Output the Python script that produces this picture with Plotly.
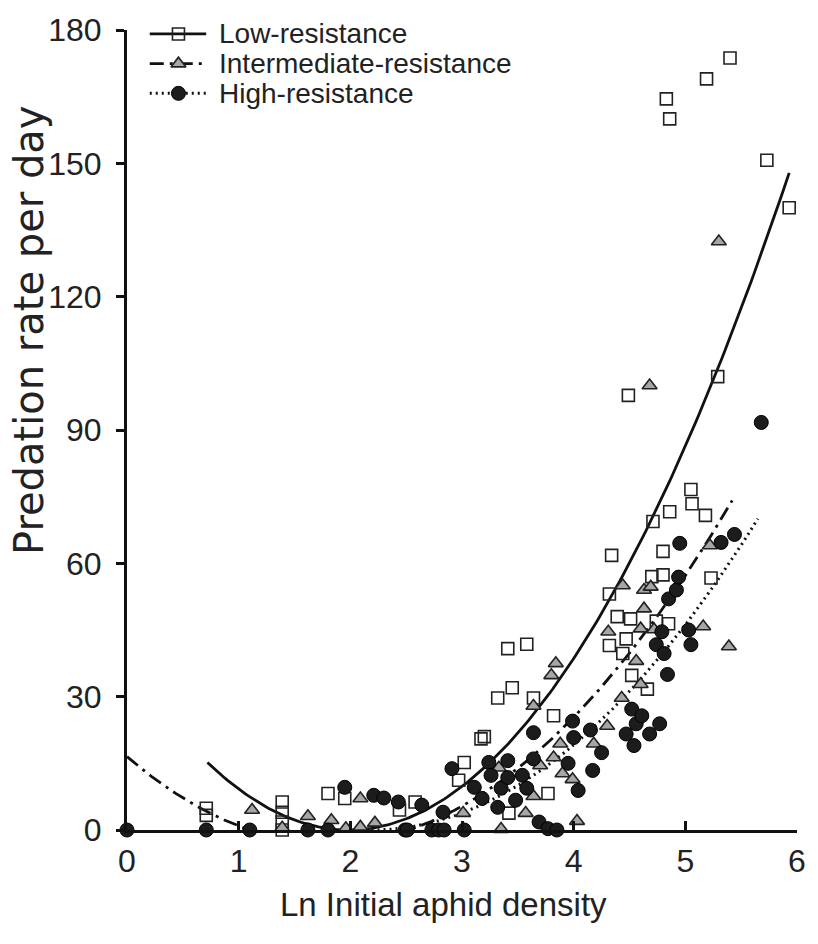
import numpy as np
import plotly.graph_objects as go

# ---- observations: ln initial aphid density vs predation rate per day ----
low_x = [0.71, 0.71, 1.39, 1.39, 1.39, 1.39, 1.80, 1.95, 2.44, 2.58, 2.97, 3.02,
         3.17, 3.20, 3.32, 3.41, 3.42, 3.45, 3.58, 3.64, 3.77, 3.82, 4.32, 4.34,
         4.32, 4.39, 4.44, 4.47, 4.49, 4.51, 4.52, 4.66, 4.70, 4.71, 4.74, 4.80,
         4.80, 4.83, 4.85, 4.86, 4.86, 5.05, 5.06, 5.18, 5.19, 5.23, 5.29, 5.40,
         5.73, 5.93]
low_y = [4.9, 3.3, 6.3, 4.0, 1.8, 0.0, 8.2, 7.1, 4.5, 6.3, 11.2, 15.2,
         20.5, 21.0, 29.7, 40.8, 3.8, 32.0, 41.8, 29.7, 8.2, 25.7, 53.1, 61.8,
         41.5, 48.0, 39.7, 43.0, 97.8, 47.5, 34.8, 31.7, 57.0, 69.4, 47.0, 62.7,
         57.4, 164.5, 46.4, 160.0, 71.6, 76.6, 73.4, 70.8, 169.0, 56.7, 102.0, 173.7,
         150.7, 140.0]

mid_x = [1.12, 1.39, 1.62, 1.83, 1.96, 2.09, 2.09, 2.22, 3.01, 3.33, 3.35, 3.57,
         3.64, 3.64, 3.70, 3.80, 3.84, 3.82, 3.88, 3.90, 3.99, 4.03, 4.18, 4.30,
         4.31, 4.43, 4.44, 4.56, 4.60, 4.60, 4.63, 4.63, 4.68, 4.69, 4.72, 5.16,
         5.22, 5.30, 5.39]
mid_y = [4.5, 0.5, 3.1, 2.2, 0.4, 0.7, 7.1, 1.6, 3.8, 14.0, 0.2, 3.8,
         7.6, 27.9, 14.5, 34.8, 37.5, 16.3, 19.4, 12.7, 11.4, 2.0, 19.4, 23.4,
         44.6, 29.7, 55.0, 38.0, 45.3, 32.8, 54.0, 49.8, 100.0, 54.7, 45.1, 45.8,
         64.0, 132.4, 41.3]

high_x = [0.00, 0.71, 1.10, 1.62, 1.80, 1.95, 2.21, 2.30, 2.43, 2.49, 2.51, 2.64,
          2.73, 2.79, 2.84, 2.83, 2.91, 3.02, 3.11, 3.18, 3.24, 3.26, 3.32, 3.35,
          3.41, 3.41, 3.48, 3.54, 3.58, 3.64, 3.64, 3.69, 3.77, 3.85, 3.95, 3.99,
          4.00, 4.04, 4.15, 4.17, 4.25, 4.47, 4.52, 4.54, 4.56, 4.61, 4.68, 4.74,
          4.77, 4.79, 4.81, 4.84, 4.85, 4.92, 4.94, 4.95, 5.03, 5.05, 5.32, 5.44,
          5.68]
high_y = [0.0, 0.0, 0.0, 0.0, 0.0, 9.6, 7.8, 7.2, 6.3, 0.0, 0.0, 5.6,
          0.0, 0.0, 0.0, 4.0, 13.8, 0.0, 9.6, 7.1, 15.2, 12.3, 5.1, 9.4,
          15.6, 11.8, 6.7, 12.3, 9.4, 21.9, 16.0, 1.8, 0.3, 0.0, 15.0, 24.5,
          20.8, 8.9, 22.5, 13.4, 17.4, 21.6, 27.2, 19.0, 23.9, 25.7, 21.6, 41.7,
          23.9, 44.6, 39.7, 35.0, 52.0, 54.0, 56.9, 64.5, 45.0, 41.7, 64.7, 66.5,
          91.7]

# ---- quadratic fits y = a*(x - h)^2 + k, drawn over [x_from, x_to] ----
low_fit = [9.5, 1.985, 0.0]
mid_fit = [5.93, 1.813, -3.0]
high_fit = [5.86, 2.193, 0.0]
low_span = [0.72, 5.93]
mid_span = [0.0, 5.42]
high_span = [2.19, 5.65]

x_ticks = [0, 1, 2, 3, 4, 5, 6]
y_ticks = [0, 30, 60, 90, 120, 150, 180]

names = ["Low-resistance", "Intermediate-resistance", "High-resistance"]

INK = "#111111"
TXT = "#222222"
FONT = "Liberation Sans, Arial, sans-serif"

# plot-area geometry (pixels)
W, H = 818, 944
L, R, T, B = 127, 14, 22, 114
PW, PH = W - L - R, H - T - B


def fit_curve(coef, span):
    xs = np.linspace(span[0], span[1], 200)
    a, h, k = coef
    return xs, a * (xs - h) ** 2 + k


def px_x(px):
    return (px - L) / PW


def px_y(py):
    return (H - B - py) / PH


line_styles = [
    dict(color=INK, width=2.8, dash="solid"),
    dict(color=INK, width=2.8, dash="14px,6px,3px,6px"),
    dict(color=INK, width=3.0, dash="2px,4px"),
]
marker_styles = [
    dict(symbol="square-open", size=12, color="#222222", line=dict(width=1.6, color="#222222")),
    dict(symbol="triangle-up", size=13, color="#a6a6a6", line=dict(width=1.6, color="#222222")),
    dict(symbol="circle", size=14, color="#1c1c1c", line=dict(width=1, color="#000000")),
]

fig = go.Figure()

# fitted curves
for coef, span, ls in zip([low_fit, mid_fit, high_fit],
                          [low_span, mid_span, high_span], line_styles):
    xs, ys = fit_curve(coef, span)
    fig.add_trace(go.Scatter(x=xs, y=ys, mode="lines", line=ls,
                             showlegend=False, hoverinfo="skip"))

# observed points
for xs, ys, ms, nm in zip([low_x, mid_x, high_x], [low_y, mid_y, high_y],
                          marker_styles, names):
    fig.add_trace(go.Scatter(x=xs, y=ys, mode="markers", marker=ms, name=nm,
                             showlegend=False, cliponaxis=False))

# key: short line sample with a marker, then the series name
key_rows = [26, 56, 86]
key_x0, key_x1, key_mid, key_text = 150, 207, 179, 218
for row, ms, ls, nm in zip(key_rows, marker_styles, line_styles, names):
    fig.add_trace(go.Scatter(x=[px_x(key_x0), px_x(key_x1)], y=[px_y(row)] * 2,
                             mode="lines", line=ls, xaxis="x2", yaxis="y2",
                             showlegend=False, hoverinfo="skip", cliponaxis=False))
    fig.add_trace(go.Scatter(x=[px_x(key_mid)], y=[px_y(row)], mode="markers",
                             marker=ms, xaxis="x2", yaxis="y2",
                             showlegend=False, hoverinfo="skip", cliponaxis=False))
    fig.add_annotation(x=px_x(key_text), y=px_y(row), xref="paper", yref="paper",
                       text=nm, showarrow=False, xanchor="left", yanchor="middle",
                       font=dict(size=28, family=FONT, color=TXT))

# axis titles
fig.add_annotation(x=px_x(447), y=px_y(905), xref="paper", yref="paper",
                   text="Ln Initial aphid density", showarrow=False,
                   xanchor="center", yanchor="middle",
                   font=dict(size=33, family=FONT, color=TXT))
fig.add_annotation(x=px_x(28), y=px_y(325), xref="paper", yref="paper",
                   text="Predation rate per day", showarrow=False, textangle=-90,
                   xanchor="center", yanchor="middle",
                   font=dict(size=40, family="DejaVu Sans, sans-serif", color=TXT))

fig.update_layout(
    width=W, height=H,
    margin=dict(l=L, r=R, t=T, b=B),
    paper_bgcolor="white", plot_bgcolor="white",
    font=dict(family=FONT, color=TXT, size=24),
    showlegend=False,
    xaxis=dict(range=[0, 6], tickvals=x_ticks, ticks="inside", ticklen=9,
               tickwidth=2.5, tickcolor=INK, showline=True, linewidth=3,
               linecolor=INK, showgrid=False, zeroline=False,
               tickfont=dict(size=32), ticklabelstandoff=1),
    yaxis=dict(range=[0, 180], tickvals=y_ticks, ticks="outside", ticklen=8,
               tickwidth=2.5, tickcolor=INK, showline=True, linewidth=3,
               linecolor=INK, showgrid=False, zeroline=False,
               tickfont=dict(size=32), ticklabelstandoff=8),
    xaxis2=dict(range=[0, 1], overlaying="x", visible=False, fixedrange=True),
    yaxis2=dict(range=[0, 1], overlaying="y", visible=False, fixedrange=True),
)

fig.write_html("out.html")
